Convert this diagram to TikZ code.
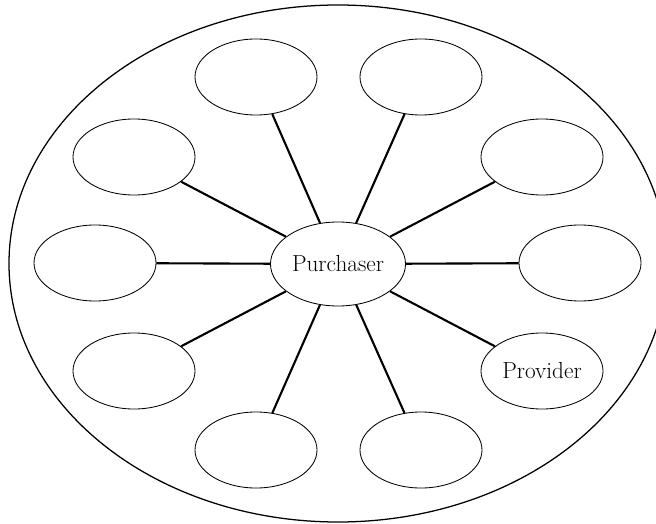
\documentclass[tikz,border=0pt]{standalone}
\usetikzlibrary{shapes.geometric}

\tikzset{
  party/.style={draw, ellipse, line width=0.6pt, inner sep=0pt,
                minimum width=3.05cm, minimum height=1.9cm},
  hub/.style={party, minimum width=3.375cm, minimum height=2.1cm},
  spoke/.style={line width=1.5pt}
}

\begin{document}
\begin{tikzpicture}[x=0.025cm, y=0.025cm, font=\fontsize{16.5}{19}\selectfont]

\useasboundingbox (0,0) rectangle (656,-524);

% the whole market
\draw[line width=0.9pt] (338,-263.5) ellipse [x radius=329, y radius=258.5];

\node[hub] (P) at (338,-264) {Purchaser};

\node[party] (pNW) at (256,-77) {};
\node[party] (pNE) at (421,-77) {};
\node[party] (pWNW) at (134,-157) {};
\node[party] (pENE) at (542,-157) {};
\node[party] (pW) at (95,-263) {};
\node[party] (pE) at (580,-263) {};
\node[party] (pWSW) at (134,-371) {};
\node[party] (pESE) at (542,-371) {Provider};
\node[party] (pSW) at (256,-450) {};
\node[party] (pSE) at (421,-450) {};

\draw[spoke] (P) -- (pNW);
\draw[spoke] (P) -- (pNE);
\draw[spoke] (P) -- (pWNW);
\draw[spoke] (P) -- (pENE);
\draw[spoke] (P) -- (pW);
\draw[spoke] (P) -- (pE);
\draw[spoke] (P) -- (pWSW);
\draw[spoke] (P) -- (pESE);
\draw[spoke] (P) -- (pSW);
\draw[spoke] (P) -- (pSE);
\end{tikzpicture}
\end{document}
